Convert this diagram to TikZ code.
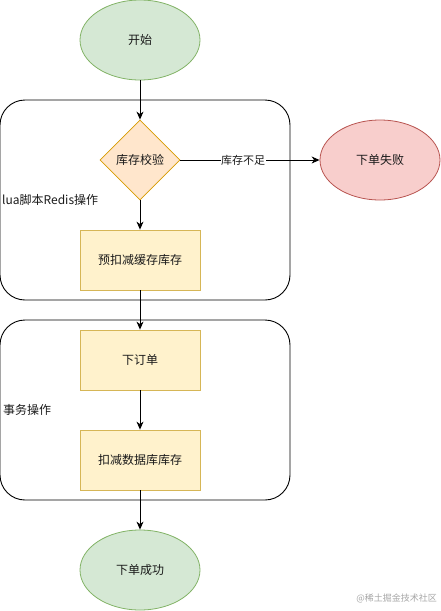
\documentclass[tikz,border=0pt]{standalone}
\usepackage{fontspec}
\setmainfont{Noto Sans CJK SC}
\usetikzlibrary{shapes.geometric,arrows.meta}
\definecolor{gfill}{HTML}{D5E8D4}\definecolor{gline}{HTML}{82B366}
\definecolor{ofill}{HTML}{FFE6CC}\definecolor{oline}{HTML}{D79B00}
\definecolor{yfill}{HTML}{FFF2CC}\definecolor{yline}{HTML}{D6B656}
\definecolor{rfill}{HTML}{F8CECC}\definecolor{rline}{HTML}{B85450}
\definecolor{txt}{HTML}{1A1A1A}
\begin{document}
\begin{tikzpicture}[x=1pt,y=-1pt,
  every node/.style={font=\fontsize{12}{14}\selectfont, text=txt},
  term/.style={ellipse, draw=#1line, fill=#1fill, line width=0.8pt, minimum width=120pt, minimum height=80pt, inner sep=0pt},
  procbox/.style={rectangle, draw=yline, fill=yfill, line width=0.8pt, minimum width=120pt, minimum height=60pt, inner sep=0pt},
  decide/.style={diamond, draw=oline, fill=ofill, line width=0.8pt, minimum width=80pt, minimum height=80pt, inner sep=0pt, aspect=1},
  group/.style={rectangle, rounded corners=25pt, draw=black, line width=0.9pt, minimum width=290pt, inner sep=0pt},
  grouplabel/.style={anchor=west, inner sep=0pt},
  flow/.style={-{Stealth[length=8pt,width=7pt,inset=2.5pt]}, line width=0.9pt, black}]
\useasboundingbox (0,0) rectangle (441,611);
% containers
\node[group, minimum height=200pt] (g1) at (145,200) {};
\node[group, minimum height=180pt] (g2) at (145,410) {};
\node[grouplabel] (l1) at (2,200) {lua脚本Redis操作};
\node[grouplabel] (l2) at (3,410) {事务操作};
% nodes
\node[term=g] (start) at (140,40) {开始};
\node[decide] (check) at (140,160) {库存校验};
\node[term=r] (fail) at (380,160) {下单失败};
\node[procbox] (pre) at (140,260) {预扣减缓存库存};
\node[procbox] (order) at (140,360) {下订单};
\node[procbox] (dec) at (140,460) {扣减数据库库存};
\node[term=g] (ok) at (140,570) {下单成功};
% edges
\draw[flow] (start) -- (check);
\draw[flow] (check) -- node[pos=0.45, fill=white, inner sep=0.5pt, font=\fontsize{11}{13}\selectfont] (lack) {库存不足} (fail);
\draw[flow] (check) -- (pre);
\draw[flow] (pre) -- (order);
\draw[flow] (order) -- (dec);
\draw[flow] (dec) -- (ok);
% watermark
\node[anchor=east, text=black!35, font=\fontsize{9}{11}\selectfont, inner sep=0pt] (wm) at (437,598) {@稀土掘金技术社区};
\end{tikzpicture}
\end{document}
